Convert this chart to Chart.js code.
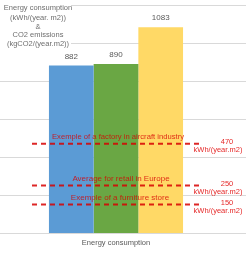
<!DOCTYPE html>
<html>
<head>
    <script src="https://cdn.jsdelivr.net/npm/chart.js@4"></script>
    <style>
        body { margin: 0; background: #fff; }
    </style>
</head>
<body>
    <canvas id="chart" width="246" height="254"></canvas>
    <script>
        var categories = ['Energy consumption'];
        var consumptionA = [882];
        var consumptionB = [890];
        var consumptionC = [1083];
        var seriesColors = ['#5b9bd5', '#6aa744', '#ffd966'];
        var refValues = [470, 250, 150];
        var refTexts = ['Exemple of a factory in aircraft industry', 'Average for retail in Europe', 'Exemple of a furniture store'];
        var refUnit = 'kWh/(year.m2)';
        var legendLines = ['Energy consumption', '(kWh/(year. m2))', '&', 'CO2 emissions', '(kgCO2/(year.m2))'];

        var FONT = 'Liberation Sans, sans-serif';

        var decor = {
            id: 'decor',
            beforeDatasetsDraw: function (chart) {
                var ctx = chart.ctx, y = chart.scales.y;
                ctx.save();
                ctx.strokeStyle = '#d9d9d9';
                ctx.lineWidth = 1;
                for (var v = 0; v <= 1200; v += 200) {
                    var py = Math.round(y.getPixelForValue(v)) + 0.5;
                    ctx.beginPath();
                    ctx.moveTo(0, py);
                    ctx.lineTo(chart.width, py);
                    ctx.stroke();
                }
                // title box
                ctx.fillStyle = '#fff';
                ctx.fillRect(0, 0, 71, 48);
                ctx.fillStyle = '#6e6e6e';
                ctx.font = '7.5px ' + FONT;
                ctx.textAlign = 'center';
                ctx.textBaseline = 'middle';
                var ly = [8, 18, 27, 35, 44];
                legendLines.forEach(function (t, i) { ctx.fillText(t, 38, ly[i]); });
                ctx.restore();
            },
            afterDatasetsDraw: function (chart) {
                var ctx = chart.ctx, y = chart.scales.y, area = chart.chartArea;
                ctx.save();
                // value labels
                ctx.fillStyle = '#595959';
                ctx.font = '8px ' + FONT;
                ctx.textAlign = 'center';
                ctx.textBaseline = 'middle';
                chart.data.datasets.forEach(function (ds, i) {
                    var bar = chart.getDatasetMeta(i).data[0];
                    ctx.fillText(ds.data[0], bar.x, bar.y - 9);
                });
                // reference lines
                var textX = [118, 121, 120];
                refValues.forEach(function (v, i) {
                    var py = y.getPixelForValue(v);
                    ctx.strokeStyle = 'rgba(215,0,0,0.85)';
                    ctx.lineWidth = 2;
                    ctx.setLineDash([5, 4]);
                    ctx.beginPath();
                    ctx.moveTo(area.left + 32, py);
                    ctx.lineTo(area.left + 201, py);
                    ctx.stroke();
                    ctx.setLineDash([]);
                    ctx.fillStyle = 'rgba(215,0,0,0.8)';
                    ctx.font = '8px ' + FONT;
                    ctx.fillText(refTexts[i], area.left + textX[i], py - 7, 132);
                    ctx.fillStyle = 'rgba(225,0,0,0.85)';
                    ctx.font = '7.5px ' + FONT;
                    ctx.fillText(String(v), area.left + 227, py - 2);
                    ctx.fillText(refUnit, area.left + 218, py + 6);
                });
                ctx.restore();
            }
        };

        new Chart(document.getElementById('chart'), {
            type: 'bar',
            data: {
                labels: categories,
                datasets: [
                    { data: consumptionA, backgroundColor: seriesColors[0] },
                    { data: consumptionB, backgroundColor: seriesColors[1] },
                    { data: consumptionC, backgroundColor: seriesColors[2] }
                ]
            },
            options: {
                responsive: false,
                animation: false,
                devicePixelRatio: 1,
                layout: { padding: { top: 5, right: 14, left: 0, bottom: 2 } },
                categoryPercentage: 0.578,
                barPercentage: 1,
                plugins: { legend: { display: false }, tooltip: { enabled: false } },
                scales: {
                    x: {
                        grid: { display: false, drawTicks: false },
                        border: { display: false },
                        ticks: { color: '#595959', font: { size: 7.5, family: FONT }, padding: 5 }
                    },
                    y: { display: false, min: 0, max: 1200 }
                }
            },
            plugins: [decor]
        });
    </script>
</body>
</html>
